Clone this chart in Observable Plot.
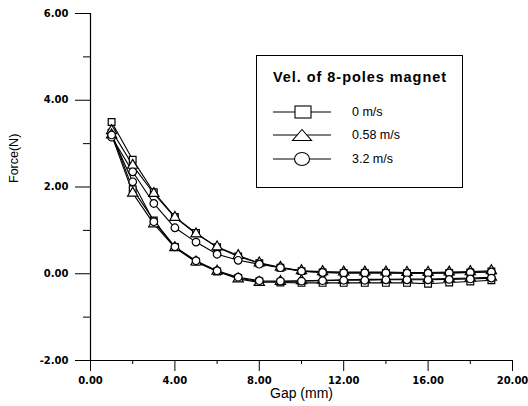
<!DOCTYPE html>
<html>
<head>
<meta charset="utf-8">
<script src="https://cdn.jsdelivr.net/npm/d3@7"></script>
<script src="https://cdn.jsdelivr.net/npm/@observablehq/plot@0.6"></script>
<style>
  html, body { margin: 0; padding: 0; background: #fff; }
  #wrap { position: relative; width: 528px; height: 406px; overflow: hidden; }
  #legend {
    position: absolute; left: 256px; top: 55px; width: 207px; height: 133px;
    box-sizing: border-box; border: 1px solid #000; background: #fff;
    font-family: "Liberation Sans", Arial, sans-serif; color: #000;
  }
  #legend .title {
    position: absolute; left: 16px; top: 13px; font-size: 14.5px; font-weight: bold;
    letter-spacing: 0.95px; white-space: nowrap;
  }
  #legend .row { position: absolute; left: 16px; height: 16px; display: flex; align-items: center; }
  #legend .row svg { display: block; }
  #legend .row span { margin-left: 21px; font-size: 12.5px; white-space: nowrap; }
</style>
</head>
<body>
<div id="wrap"></div>
<script>
// ---- data ----
const gapMM = [1, 2, 3, 4, 5, 6, 7, 8, 9, 10, 11, 12, 13, 14, 15, 16, 17, 18, 19];

const velocities = ["0 m/s", "0.58 m/s", "3.2 m/s"];
const velSymbols = ["square", "triangle", "circle"];
const legendTitle = "Vel. of 8-poles magnet";

// each velocity shows two measured curves (upper and lower branch)
const force0Upper   = [3.50, 2.63, 1.88, 1.31, 0.94, 0.61, 0.40, 0.24, 0.14, 0.06, 0.03, 0.02, 0.02, 0.02, 0.01, 0.01, 0.02, 0.03, 0.05];
const force0Lower   = [3.25, 1.95, 1.23, 0.62, 0.28, 0.05, -0.10, -0.18, -0.20, -0.21, -0.21, -0.21, -0.21, -0.21, -0.21, -0.23, -0.20, -0.18, -0.15];
const force058Upper = [3.30, 2.50, 1.85, 1.30, 0.92, 0.62, 0.42, 0.25, 0.15, 0.07, 0.05, 0.04, 0.04, 0.04, 0.03, 0.03, 0.04, 0.05, 0.07];
const force058Lower = [3.20, 1.86, 1.15, 0.60, 0.27, 0.06, -0.12, -0.20, -0.18, -0.16, -0.15, -0.14, -0.13, -0.13, -0.12, -0.12, -0.11, -0.10, -0.08];
const force32Upper  = [3.15, 2.35, 1.62, 1.06, 0.73, 0.45, 0.31, 0.22, 0.14, 0.06, 0.03, 0.02, 0.02, 0.02, 0.01, 0.01, 0.02, 0.03, 0.04];
const force32Lower  = [3.20, 2.12, 1.20, 0.62, 0.30, 0.07, -0.08, -0.16, -0.17, -0.17, -0.16, -0.15, -0.15, -0.14, -0.14, -0.14, -0.13, -0.12, -0.10];

const xMajorTicks = [0, 4, 8, 12, 16, 20];
const xMinorTicks = [2, 6, 10, 14, 18];
const yMajorTicks = [-2, 0, 2, 4, 6];
const yMinorTicks = [-1, 1, 3, 5];
const xLabel = "Gap (mm)";
const yLabel = "Force(N)";

// ---- table for Plot ----
const curves = [
  {vel: velocities[0], branch: "upper", values: force0Upper},
  {vel: velocities[0], branch: "lower", values: force0Lower},
  {vel: velocities[1], branch: "upper", values: force058Upper},
  {vel: velocities[1], branch: "lower", values: force058Lower},
  {vel: velocities[2], branch: "upper", values: force32Upper},
  {vel: velocities[2], branch: "lower", values: force32Lower}
];
const rows = curves.flatMap(c => c.values.map((f, i) => ({
  gap: gapMM[i], force: f, vel: c.vel, curve: c.vel + " " + c.branch
})));

const fmt = d => d.toFixed(2);
const tickFont = {fontFamily: "DejaVu Sans, sans-serif", fontWeight: "bold", fontSize: 10};

const chart = Plot.plot({
  width: 528,
  height: 406,
  marginLeft: 90,
  marginRight: 16,
  marginTop: 13,
  marginBottom: 46,
  style: {background: "#fff", color: "#000", fontFamily: "DejaVu Sans, sans-serif"},
  x: {domain: [0, 20]},
  y: {domain: [-2, 6]},
  symbol: {domain: velocities, range: velSymbols},
  marks: [
    Plot.axisX({ticks: xMajorTicks, tickSize: 11, tickPadding: 5, tickFormat: fmt, label: null, ...tickFont}),
    Plot.axisX({ticks: xMinorTicks, tickSize: 4, tickFormat: () => "", label: null}),
    Plot.axisY({ticks: yMajorTicks, tickSize: 15, tickPadding: 7, tickFormat: fmt, label: null, ...tickFont}),
    Plot.axisY({ticks: yMinorTicks, tickSize: 7, tickFormat: () => "", label: null}),
    Plot.ruleX([0], {stroke: "#000", strokeWidth: 1.2}),
    Plot.ruleY([-2], {stroke: "#000", strokeWidth: 1.2}),
    Plot.text([xLabel], {frameAnchor: "bottom", dy: 37, fontSize: 14, fontFamily: "Liberation Sans, Arial, sans-serif"}),
    Plot.text([yLabel], {frameAnchor: "left", dx: -77, dy: -4, rotate: -90, fontSize: 12.5, fontFamily: "Liberation Sans, Arial, sans-serif"}),
    Plot.line(rows, {x: "gap", y: "force", z: "curve", stroke: "#000", strokeWidth: 1.1}),
    Plot.dot(rows, {x: "gap", y: "force", symbol: "vel", r: 3.8, fill: "#fff", stroke: "#000", strokeWidth: 1.2})
  ]
});

const wrap = document.getElementById("wrap");
wrap.appendChild(chart);

// ---- legend (HTML overlay) ----
const legend = document.createElement("div");
legend.id = "legend";
const title = document.createElement("div");
title.className = "title";
title.textContent = legendTitle;
legend.appendChild(title);
const rowTops = [48, 71, 95];
velocities.forEach((v, i) => {
  const row = document.createElement("div");
  row.className = "row";
  row.style.top = rowTops[i] + "px";
  const ns = "http://www.w3.org/2000/svg";
  const svg = document.createElementNS(ns, "svg");
  svg.setAttribute("width", 58);
  svg.setAttribute("height", 16);
  const line = document.createElementNS(ns, "line");
  line.setAttribute("x1", 0); line.setAttribute("x2", 58);
  line.setAttribute("y1", 8); line.setAttribute("y2", 8);
  line.setAttribute("stroke", "#000"); line.setAttribute("stroke-width", 1.1);
  svg.appendChild(line);
  let shape;
  if (velSymbols[i] === "square") {
    shape = document.createElementNS(ns, "rect");
    shape.setAttribute("x", 22); shape.setAttribute("y", 2);
    shape.setAttribute("width", 16); shape.setAttribute("height", 12);
  } else if (velSymbols[i] === "triangle") {
    shape = document.createElementNS(ns, "path");
    shape.setAttribute("d", "M29,2.5 L38.5,13.5 L19.5,13.5 Z");
  } else {
    shape = document.createElementNS(ns, "ellipse");
    shape.setAttribute("cx", 29); shape.setAttribute("cy", 8);
    shape.setAttribute("rx", 7.5); shape.setAttribute("ry", 6.5);
  }
  shape.setAttribute("fill", "#fff"); shape.setAttribute("stroke", "#000"); shape.setAttribute("stroke-width", 1.1);
  svg.appendChild(shape);
  row.appendChild(svg);
  const lab = document.createElement("span");
  lab.textContent = v;
  row.appendChild(lab);
  legend.appendChild(row);
});
wrap.appendChild(legend);
</script>
</body>
</html>
